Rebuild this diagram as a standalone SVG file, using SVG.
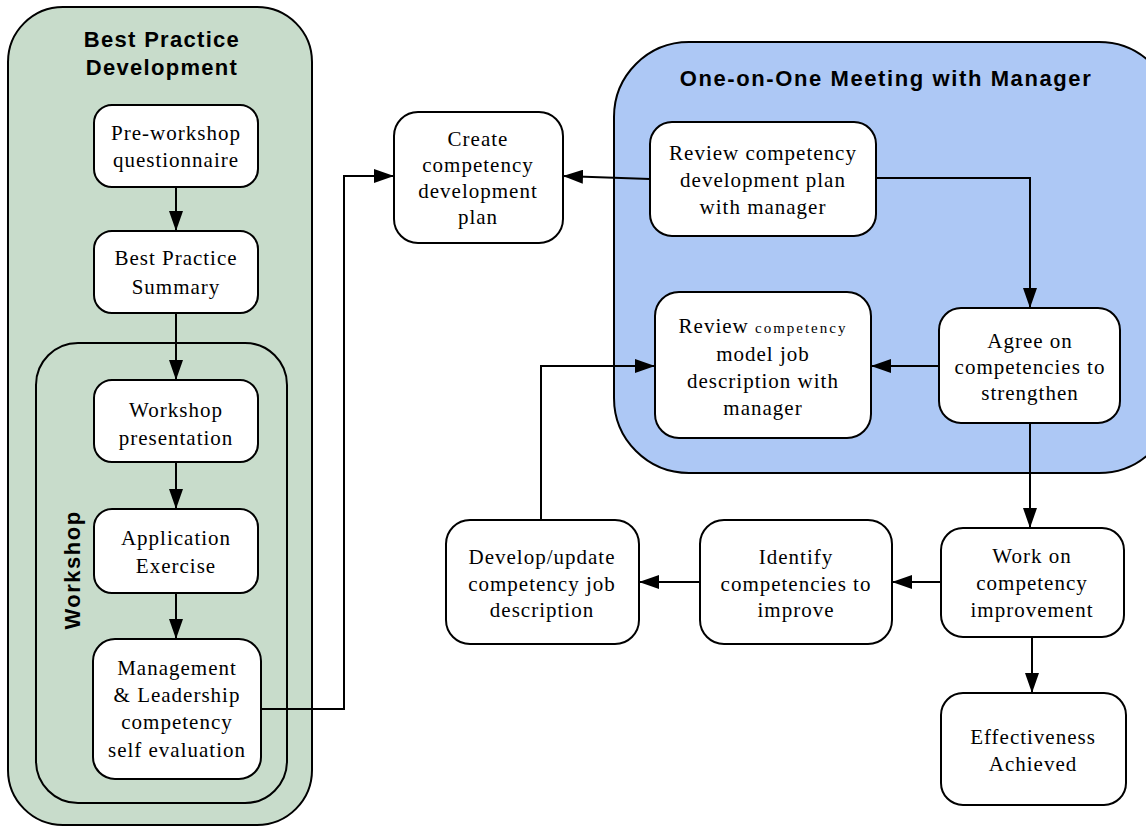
<svg xmlns="http://www.w3.org/2000/svg" width="1146" height="827" viewBox="0 0 1146 827">
<style>
.cont{stroke:#000;stroke-width:2}
.node rect{fill:#fff;stroke:#000;stroke-width:2}
.node text{font-family:"Liberation Serif","Times New Roman",serif;font-size:21px;letter-spacing:1px;text-anchor:middle;fill:#000}
.title{font-family:"Liberation Sans",Arial,sans-serif;font-weight:bold;font-size:22px;letter-spacing:1.3px;text-anchor:middle;fill:#000}
.edge{fill:none;stroke:#000;stroke-width:2;marker-end:url(#ah)}
</style>
<defs>
<marker id="ah" viewBox="0 0 20 14" refX="20" refY="7" markerWidth="20" markerHeight="14" markerUnits="userSpaceOnUse" orient="auto">
<path d="M0,0 L20,7 L0,14 z" fill="#000"/>
</marker>
</defs>
<rect width="1146" height="827" fill="#fff"/>
<g id="cluster-best-practice">
<rect class="cont" x="8" y="7" width="304" height="818" rx="55" fill="#c8dccb"/>
<text class="title" x="162" y="47">Best Practice</text>
<text class="title" x="162" y="75">Development</text>
</g>
<g id="cluster-workshop">
<rect class="cont" x="36" y="343" width="251" height="460" rx="42" fill="#c8dccb"/>
<text class="title" transform="translate(80,570) rotate(-90)" style="letter-spacing:1.5px">Workshop</text>
</g>
<g id="cluster-meeting">
<rect class="cont" x="614" y="42" width="560" height="431" rx="75" fill="#adc8f5"/>
<text class="title" x="886" y="86" style="letter-spacing:1.6px">One-on-One Meeting with Manager</text>
</g>
<g id="edges">
<path class="edge" d="M176,187 L176,231"/>
<path class="edge" d="M176,313 L176,380"/>
<path class="edge" d="M176,462 L176,509"/>
<path class="edge" d="M176,593 L176,639"/>
<path class="edge" d="M261,709 L344,709 L344,176 L394,176"/>
<path class="edge" d="M650,179 L563,176"/>
<path class="edge" d="M876,178 L1030,178 L1030,308"/>
<path class="edge" d="M939,366 L871,366"/>
<path class="edge" d="M541,520 L541,366 L655,366"/>
<path class="edge" d="M1030,423 L1030,528"/>
<path class="edge" d="M941,582 L892,582"/>
<path class="edge" d="M700,582 L639,582"/>
<path class="edge" d="M1032,637 L1032,693"/>
</g>
<g id="n-preworkshop" class="node">
<rect x="94" y="105" width="164" height="82" rx="18"/>
<text x="176" y="140">Pre-workshop</text>
<text x="176" y="167">questionnaire</text>
</g>
<g id="n-summary" class="node">
<rect x="94" y="231" width="164" height="82" rx="18"/>
<text x="176" y="265">Best Practice</text>
<text x="176" y="294">Summary</text>
</g>
<g id="n-presentation" class="node">
<rect x="94" y="380" width="164" height="82" rx="18"/>
<text x="176" y="417">Workshop</text>
<text x="176" y="445">presentation</text>
</g>
<g id="n-exercise" class="node">
<rect x="94" y="509" width="164" height="84" rx="18"/>
<text x="176" y="545">Application</text>
<text x="176" y="573">Exercise</text>
</g>
<g id="n-selfeval" class="node">
<rect x="93" y="639" width="168" height="140" rx="22"/>
<text x="177" y="675">Management</text>
<text x="177" y="702">&amp; Leadership</text>
<text x="177" y="729">competency</text>
<text x="177" y="757">self evaluation</text>
</g>
<g id="n-create" class="node">
<rect x="394" y="112" width="169" height="131" rx="24"/>
<text x="478" y="146">Create</text>
<text x="478" y="172">competency</text>
<text x="478" y="198">development</text>
<text x="478" y="224">plan</text>
</g>
<g id="n-reviewplan" class="node">
<rect x="650" y="122" width="226" height="114" rx="22"/>
<text x="763" y="160">Review competency</text>
<text x="763" y="187">development plan</text>
<text x="763" y="214">with manager</text>
</g>
<g id="n-reviewmodel" class="node">
<rect x="655" y="292" width="216" height="146" rx="24"/>
<text x="763" y="333">Review <tspan style="font-size:15px;letter-spacing:2px">competency</tspan></text>
<text x="763" y="361">model job</text>
<text x="763" y="388">description with</text>
<text x="763" y="415">manager</text>
</g>
<g id="n-agree" class="node">
<rect x="939" y="308" width="181" height="115" rx="22"/>
<text x="1030" y="348">Agree on</text>
<text x="1030" y="374">competencies to</text>
<text x="1030" y="400">strengthen</text>
</g>
<g id="n-develop" class="node">
<rect x="446" y="520" width="193" height="124" rx="24"/>
<text x="542" y="564">Develop/update</text>
<text x="542" y="591">competency job</text>
<text x="542" y="617">description</text>
</g>
<g id="n-identify" class="node">
<rect x="700" y="520" width="192" height="124" rx="24"/>
<text x="796" y="564">Identify</text>
<text x="796" y="591">competencies to</text>
<text x="796" y="617">improve</text>
</g>
<g id="n-work" class="node">
<rect x="941" y="528" width="183" height="109" rx="22"/>
<text x="1032" y="563">Work on</text>
<text x="1032" y="590">competency</text>
<text x="1032" y="617">improvement</text>
</g>
<g id="n-effective" class="node">
<rect x="941" y="693" width="185" height="112" rx="22"/>
<text x="1033" y="744">Effectiveness</text>
<text x="1033" y="771">Achieved</text>
</g>
</svg>
